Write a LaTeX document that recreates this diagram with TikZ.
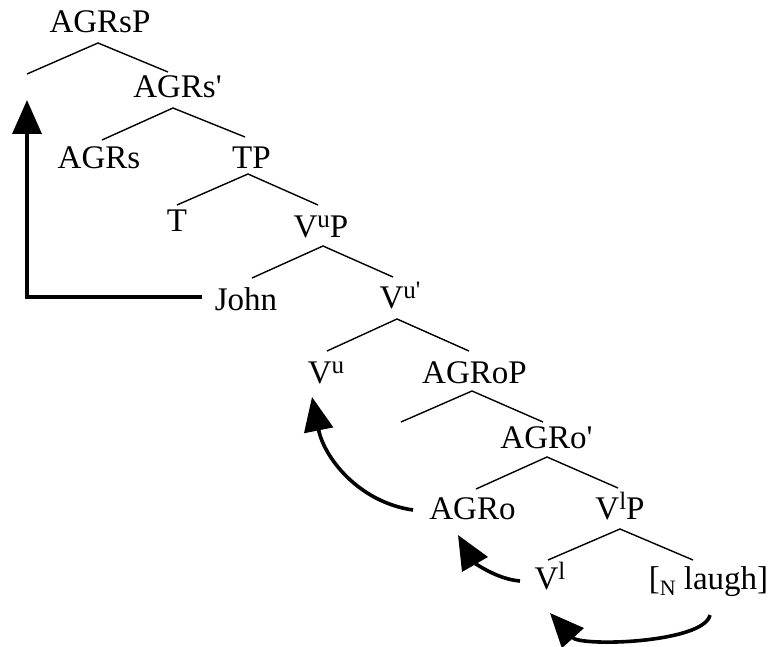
\documentclass[tikz,border=0pt]{standalone}
\usepackage{fontspec}
\setmainfont{Liberation Serif}
\usetikzlibrary{arrows.meta}
\newcommand{\hisup}[1]{\raisebox{9.5pt}{\fontsize{25}{25}\selectfont #1}}
\newcommand{\losub}[1]{\raisebox{-6pt}{\fontsize{22}{22}\selectfont #1}}
\begin{document}
\begin{tikzpicture}[x=1pt,y=-1pt,
  lab/.style={anchor=base,inner sep=0pt,font=\fontsize{33}{38}\selectfont},
  br/.style={line width=1.4pt},
  mv/.style={line width=3.6pt,-{Triangle[length=34pt,width=29pt]}}]
\useasboundingbox (0,0) rectangle (770,647);
% nodes
\node[lab] (AGRsP) at (100,33) {AGRsP};
\coordinate (spec) at (27,74);
\node[lab] (AGRsb) at (177.5,98) {AGRs\textquotesingle};
\node[lab] (AGRs) at (99,168) {AGRs};
\node[lab] (TP) at (251.5,168) {TP};
\node[lab] (T) at (177,231) {T};
\node[lab] (VuP) at (321,237) {V\hisup{u}P};
\node[lab] (John) at (246,310) {John};
\node[lab] (Vub) at (400,308) {V\hisup{u\textquotesingle}};
\node[lab] (Vu) at (326,383) {V\hisup{u}};
\node[lab] (AGRoP) at (474.5,383) {AGRoP};
\coordinate (ospec) at (401,422);
\node[lab] (AGRob) at (546.5,448) {AGRo\textquotesingle};
\node[lab] (AGRo) at (472.5,519) {AGRo};
\node[lab] (VlP) at (620,519) {V\hisup{l}P};
\node[lab] (Vl) at (550,589) {V\hisup{l}};
\node[lab] (laugh) at (708.5,589) {[\losub{N} laugh]};
% branches
\draw[br] (spec) -- ([shift={(-2,10)}]AGRsP.base) -- ([shift={(-9.5,-26)}]AGRsb.base);
\draw[br] ([shift={(3,-28)}]AGRs.base) -- ([shift={(-4.5,10)}]AGRsb.base) -- ([shift={(-6.5,-31)}]TP.base);
\draw[br] ([shift={(0,-26)}]T.base) -- ([shift={(-3.5,6)}]TP.base) -- ([shift={(-3,-32)}]VuP.base);
\draw[br] ([shift={(6,-32)}]John.base) -- ([shift={(2,9)}]VuP.base) -- ([shift={(-7,-31)}]Vub.base);
\draw[br] ([shift={(1,-32)}]Vu.base) -- ([shift={(-3,11)}]Vub.base) -- ([shift={(-5.5,-32)}]AGRoP.base);
\draw[br] (ospec) -- ([shift={(-2.5,8)}]AGRoP.base) -- ([shift={(-3.5,-26)}]AGRob.base);
\draw[br] ([shift={(3.5,-30)}]AGRo.base) -- ([shift={(0.5,9)}]AGRob.base) -- ([shift={(-2,-31)}]VlP.base);
\draw[br] ([shift={(-2,-29)}]Vl.base) -- ([shift={(0,10)}]VlP.base) -- ([shift={(-15.5,-29)}]laugh.base);
% movement arrows
\draw[mv] ([shift={(-44,-13)}]John.base) -| ([shift={(0,26)}]spec);
\draw[mv] ([shift={(-59.5,-9)}]AGRo.base) .. controls +(-55,-8) and +(12,60) .. ([shift={(-14,14)}]Vu.base);
\draw[mv] ([shift={(-30,-8)}]Vl.base) .. controls +(-25,-2) and +(15,26) .. ([shift={(-14.5,16)}]AGRo.base);
\draw[mv] ([shift={(1.5,26)}]laugh.base) .. controls +(-6,28) and +(31,34) .. ([shift={(0,24)}]Vl.base);
\end{tikzpicture}
\end{document}
